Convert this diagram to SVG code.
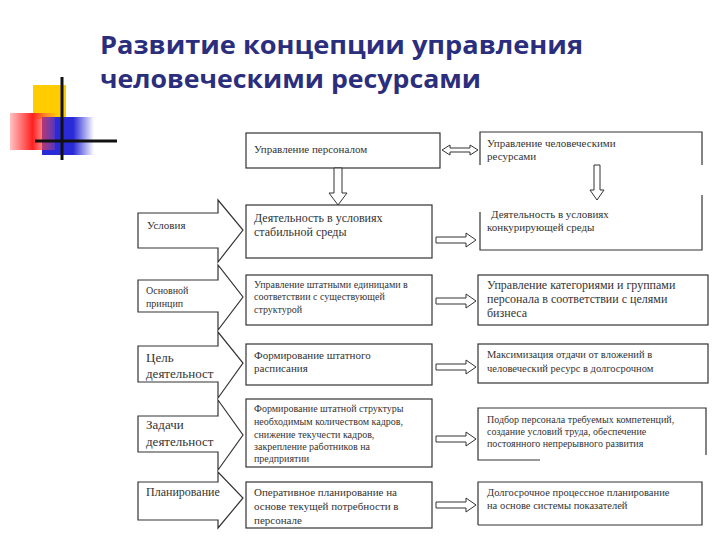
<svg xmlns="http://www.w3.org/2000/svg" width="720" height="540" viewBox="0 0 720 540">
<defs>
<style>
text.t{font-family:'Liberation Serif','Times New Roman',serif;font-size:11px;fill:#333}
.b{fill:#fff;stroke:#333;stroke-width:1.2}
.ln{fill:none;stroke:#333;stroke-width:1.2}
.ha{fill:#fff;stroke:#333;stroke-width:1}
</style>
<linearGradient id="rg" x1="0" x2="1"><stop offset="0" stop-color="#ff3030" stop-opacity="0.3"/><stop offset="0.5" stop-color="#ff2020"/><stop offset="1" stop-color="#ff6060" stop-opacity="0.2"/></linearGradient>
<linearGradient id="bg" x1="0" x2="1"><stop offset="0.6" stop-color="#2a2ad8"/><stop offset="1" stop-color="#2a2ad8" stop-opacity="0"/></linearGradient>
</defs>
<rect width="720" height="540" fill="#fff"/>
<g id="deco">
<rect x="33" y="85" width="33" height="34" fill="#ffcc00"/>
<rect x="42" y="117" width="52" height="38" fill="url(#bg)"/>
<rect x="10" y="113" width="45" height="37" fill="url(#rg)"/>
<line x1="62" y1="77" x2="62" y2="160" stroke="#111" stroke-width="3"/>
<line x1="35" y1="141" x2="117" y2="141" stroke="#111" stroke-width="3"/>
</g>
<g id="title" font-family="'Open Sans','DejaVu Sans',sans-serif" font-weight="bold" font-size="25" fill="#2b2e7c">
<text x="100" y="54" textLength="483" lengthAdjust="spacingAndGlyphs">Развитие концепции управления</text>
<text x="100" y="88" textLength="381" lengthAdjust="spacingAndGlyphs">человеческими ресурсами</text>
</g>
<g font-family="'Liberation Serif','Times New Roman',serif">
<g id="n-top-left"><rect class="b" x="246" y="133" width="194" height="35"/><text class="t" x="254" y="153">Управление персоналом</text></g>
<g id="n-top-right">
<path class="ln" d="M480 165 V132 H702 V165 M702 195 V250 H480 V212"/>
<text class="t" x="487" y="147">Управление человеческими</text><text class="t" x="487" y="160">ресурсами</text>
<text class="t" x="491" y="218">Деятельность в условиях</text><text class="t" x="487" y="231">конкурирующей среды</text>
</g>
<g id="left">
<path class="b" d="M138 213 H218 V200 L243 230 L218 262 V248 H138 Z"/><text class="t" x="147" y="229">Условия</text>
<path class="b" d="M138 280 H218 V265 L243 297 L218 330 V312 H138 Z"/><text class="t" x="146" y="294" style="font-size:10px">Основной</text><text class="t" x="146" y="307" style="font-size:10px">принцип</text>
<path class="b" d="M138 346 H218 V332 L243 363 L218 398 V382 H138 Z"/><text class="t" x="146" y="362" style="font-size:13px">Цель</text><text class="t" x="146" y="378" style="font-size:13px">деятельност</text>
<path class="b" d="M138 416 H218 V400 L243 435 L218 470 V452 H138 Z"/><text class="t" x="146" y="429" style="font-size:13px">Задачи</text><text class="t" x="146" y="446" style="font-size:13px">деятельност</text>
<path class="b" d="M138 482 H218 V472 L243 498 L218 528 V520 H138 Z"/><text class="t" x="146" y="496" style="font-size:12px">Планирование</text>
</g>
<g id="mid">
<rect class="b" x="246" y="205" width="186" height="53"/><text class="t" x="254" y="222" style="font-size:12px">Деятельность    в    условиях</text><text class="t" x="254" y="236" style="font-size:12px">стабильной среды</text>
<rect class="b" x="246" y="275" width="186" height="50"/><text class="t" x="254" y="288" style="font-size:10px">Управление штатными единицами в</text><text class="t" x="254" y="300" style="font-size:10px">соответствии с существующей</text><text class="t" x="254" y="313" style="font-size:10px">структурой</text>
<rect class="b" x="246" y="344" width="186" height="41"/><text class="t" x="254" y="359" style="font-size:11px">Формирование штатного</text><text class="t" x="254" y="372" style="font-size:11px">расписания</text>
<rect class="b" x="246" y="399" width="186" height="68"/><text class="t" x="254" y="412" style="font-size:10px">Формирование штатной структуры</text><text class="t" x="254" y="425" style="font-size:10px">необходимым количеством кадров,</text><text class="t" x="254" y="438" style="font-size:10px">снижение  текучести кадров,</text><text class="t" x="254" y="450" style="font-size:10px">закрепление работников на</text><text class="t" x="254" y="462" style="font-size:10px">предприятии</text>
<rect class="b" x="246" y="482" width="186" height="46"/><text class="t" x="254" y="496">Оперативное планирование на</text><text class="t" x="254" y="510">основе текущей потребности в</text><text class="t" x="254" y="524">персонале</text>
</g>
<g id="right">
<rect class="b" x="478" y="275" width="230" height="50"/><text class="t" x="487" y="289" style="font-size:12px">Управление категориями и группами</text><text class="t" x="487" y="303" style="font-size:12px">персонала в соответствии с целями</text><text class="t" x="487" y="317" style="font-size:12px">бизнеса</text>
<rect class="b" x="478" y="344" width="230" height="39"/><text class="t" x="487" y="358" style="font-size:10.5px">Максимизация отдачи от вложений в</text><text class="t" x="487" y="372" style="font-size:10.5px">человеческий ресурс в долгосрочном</text>
<path class="ln" d="M706 455 V408 H478 V460 H540"/><text class="t" x="487" y="423" style="font-size:10px">Подбор персонала требуемых компетенций,</text><text class="t" x="487" y="435" style="font-size:10px">создание условий труда, обеспечение</text><text class="t" x="487" y="447" style="font-size:10px">постоянного непрерывного развития</text>
<path class="ln" d="M478 525 V482 H702 V525 H478"/><text class="t" x="487" y="496" style="font-size:10.5px">Долгосрочное процессное планирование</text><text class="t" x="487" y="509" style="font-size:10.5px">на основе системы показателей</text>
</g>
</g>
<g id="connectors">
<path class="ha" d="M442 150 L450 145 V148 H470 V145 L478 150 L470 155 V152 H450 V155 Z"/>
<path class="ha" d="M334 168 H342 V193 H347 L338 205 L329 193 H334 Z"/>
<path class="ha" d="M594 165 H600 V190 H604 L597 200 L590 190 H594 Z"/>
<path class="ha" d="M436 237 H466 V233 L476 240 L466 247 V243 H436 Z"/>
<path class="ha" d="M436 298 H466 V294 L476 301 L466 308 V304 H436 Z"/>
<path class="ha" d="M436 364 H466 V360 L476 367 L466 374 V370 H436 Z"/>
<path class="ha" d="M436 436 H466 V432 L476 439 L466 446 V442 H436 Z"/>
<path class="ha" d="M436 502 H466 V498 L476 505 L466 512 V508 H436 Z"/>
</g>
</svg>
